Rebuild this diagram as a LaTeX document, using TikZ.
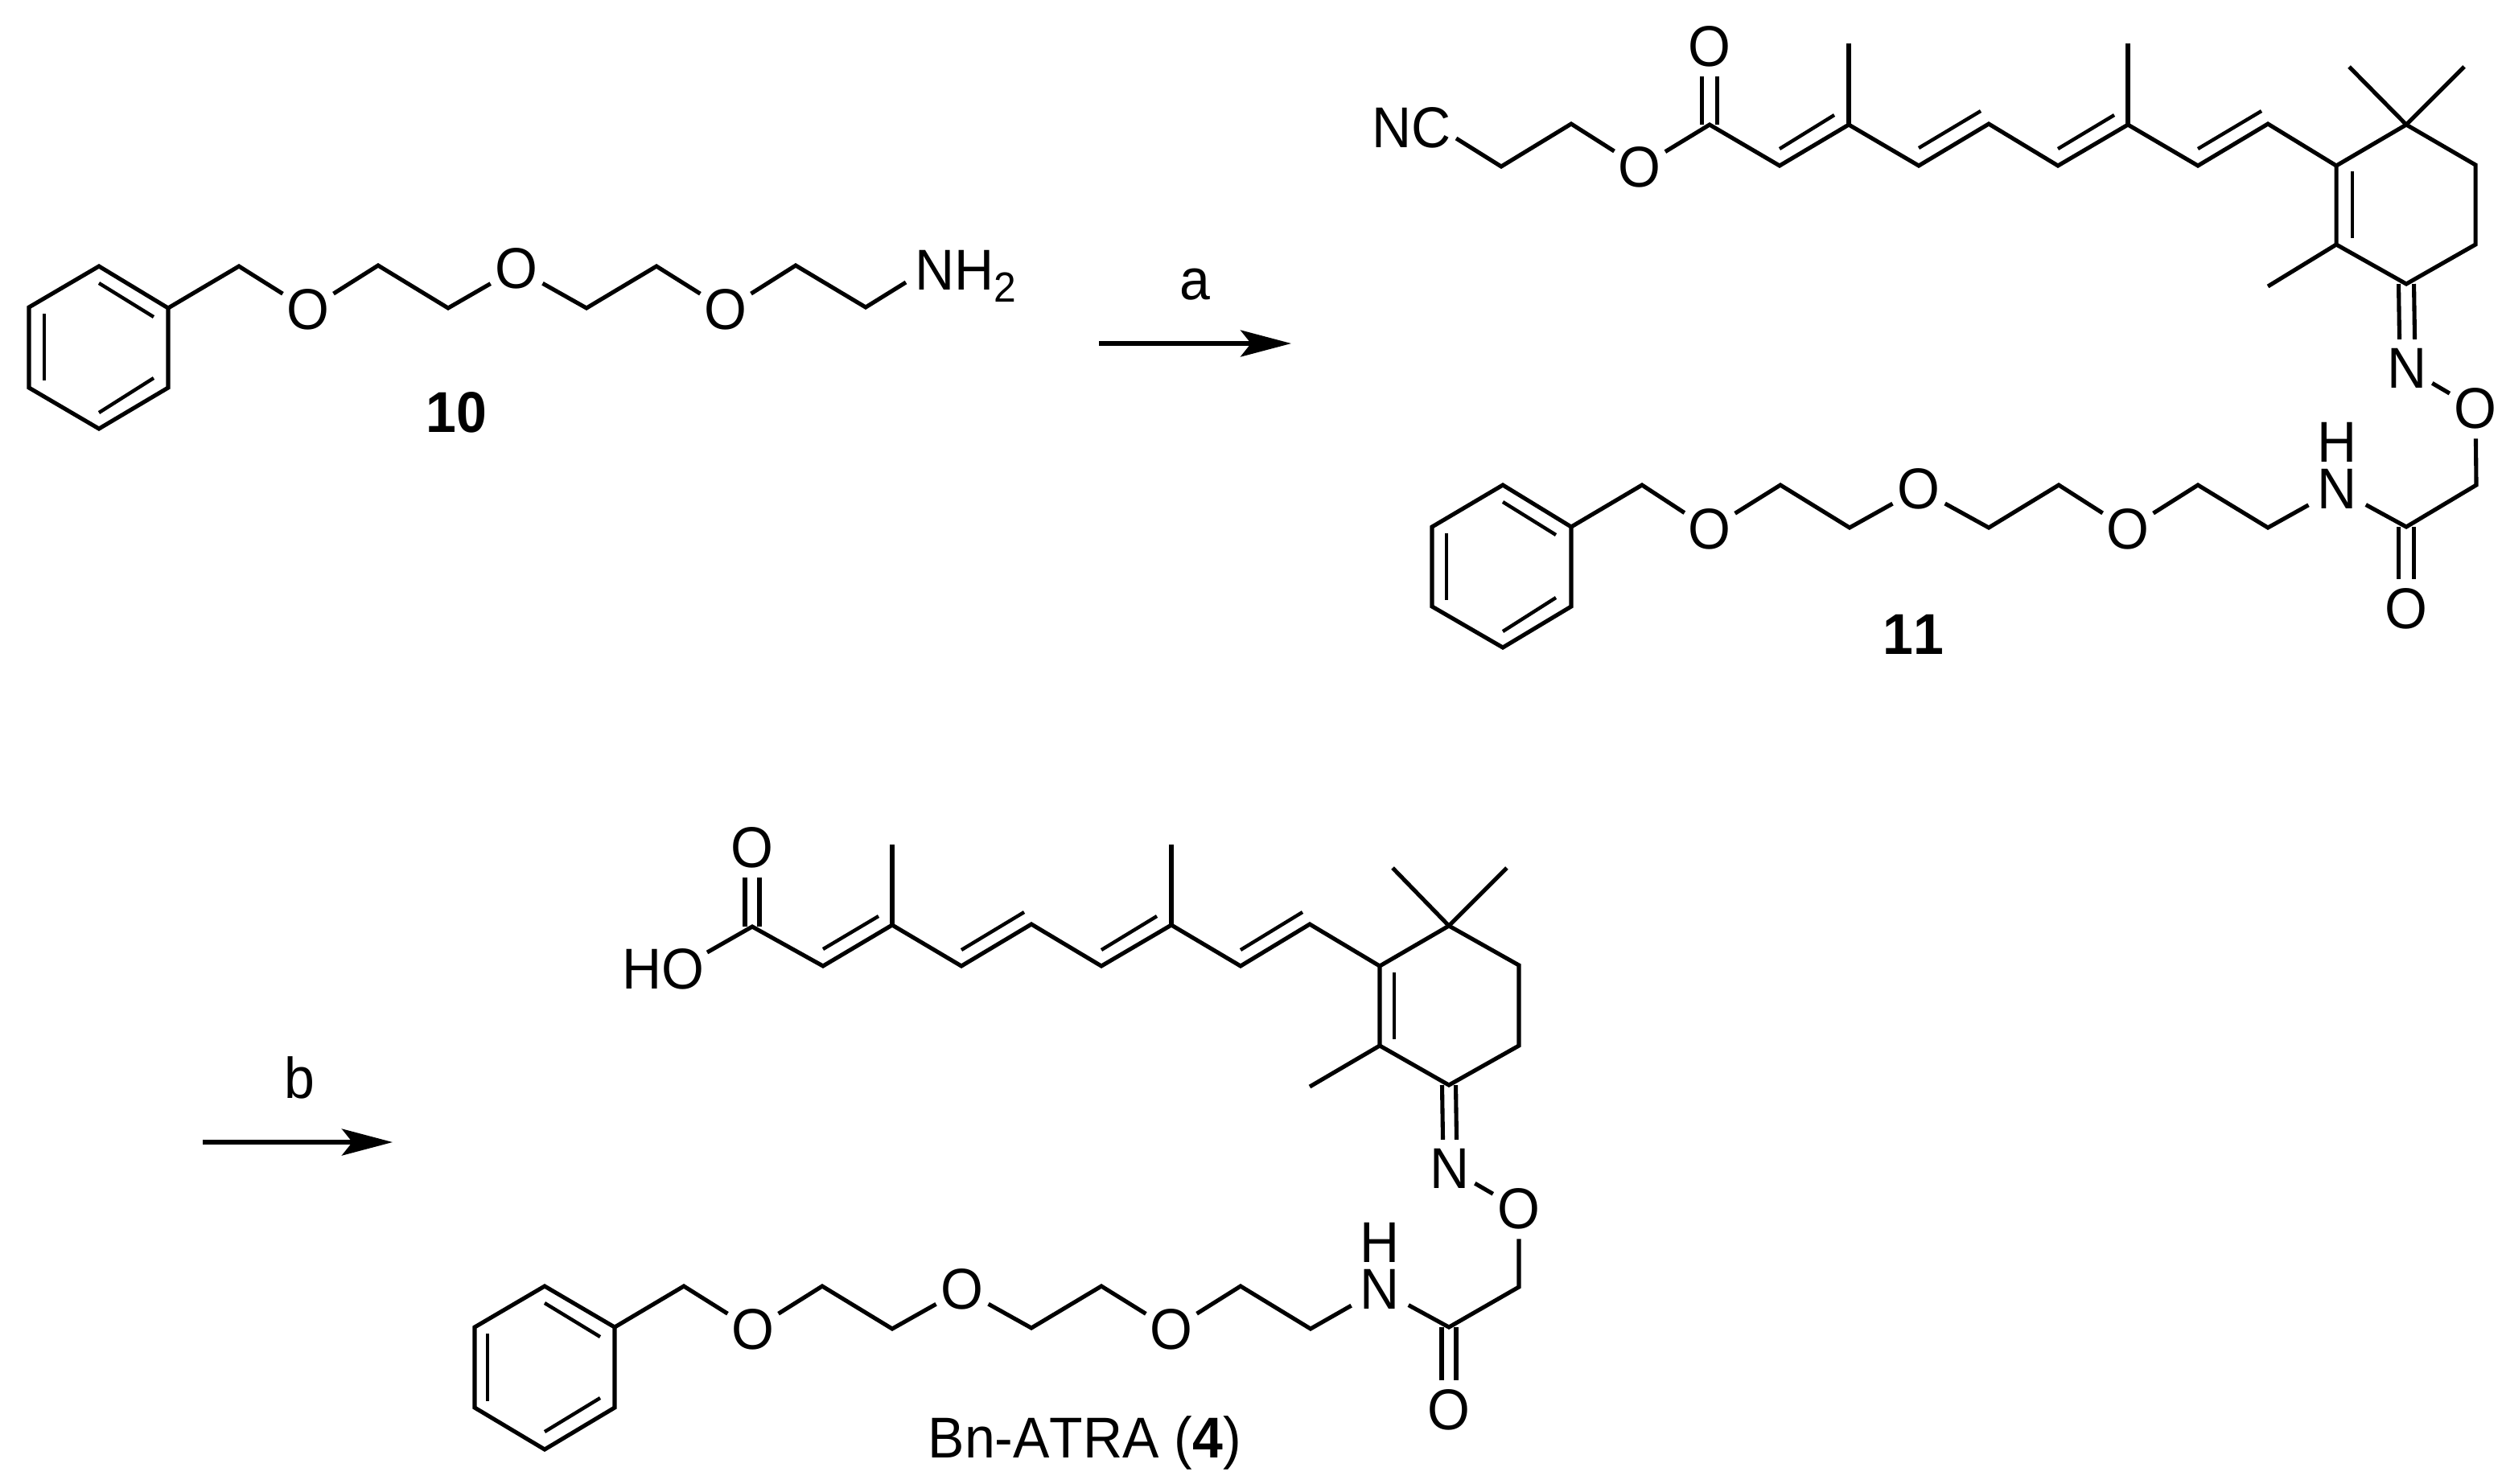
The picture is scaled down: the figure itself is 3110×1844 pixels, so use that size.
\documentclass[tikz,border=0pt]{standalone}
\usepackage{fontspec}
\setmainfont[FakeStretch=0.95,Kerning=Off]{Liberation Sans}
\usetikzlibrary{arrows.meta}
\newcommand{\labelfont}{\fontsize{20.35}{24}\selectfont}
\newcommand{\subfont}{\fontsize{14.9}{18}\selectfont}
\tikzset{
  x=0.01cm, y=-0.01cm,
  bond/.style={line width=1.45pt, line join=miter, line cap=butt, black},
  innerbond/.style={line width=1.25pt, line cap=butt, black},
  atom/.style={circle, inner sep=0pt, minimum size=0.71cm, font=\labelfont, text=black},
  nhport/.style={circle, inner sep=0pt, minimum size=0.8cm},
  nhtext/.style={inner sep=0pt, align=center, font=\fontsize{20.35}{16.5}\selectfont, text=black},
  txt/.style={inner sep=0pt, font=\labelfont, text=black},
  rxn/.style={line width=1.45pt, black, -{Stealth[length=0.63cm,width=0.33cm,inset=0.13cm]}},
}
\begin{document}
\begin{tikzpicture}
\useasboundingbox[fill=white] (0,0) rectangle (3110,1844);

% ---------- compound 10 ----------
\coordinate (a1) at (123,331); \coordinate (a2) at (209,383); \coordinate (a3) at (209,482);
\coordinate (a4) at (123,533); \coordinate (a5) at (36,482);  \coordinate (a6) at (36,382);
\coordinate (a7) at (297,331); \coordinate (a8) at (470,330); \coordinate (a9) at (557,383);
\coordinate (a10) at (729,383); \coordinate (a11) at (816,331); \coordinate (a12) at (989,330);
\coordinate (a13) at (1076,382); \coordinate (a14) at (1126,351);
\node[atom] (aO1) at (383,385) {O};
\node[atom] (aO2) at (642,334) {O};
\node[atom] (aO3) at (902,385) {O};
\node[txt, anchor=base west] (aN) at (1137,360) {NH\raisebox{-0.15cm}{\subfont 2}};
\node[txt, anchor=base, font=\labelfont\bfseries] (lab10) at (567,537) {10};
\draw[bond] (a1) -- (a2) -- (a3) -- (a4) -- (a5) -- (a6) -- cycle;
\draw[bond] (a2) -- (a7) -- (aO1) -- (a8) -- (a9) -- (aO2) -- (a10) -- (a11) -- (aO3) -- (a12) -- (a13) -- (a14);
\draw[innerbond] (123,352) -- (191,394);
\draw[innerbond] (55,390) -- (55,473);
\draw[innerbond] (123,513) -- (191,470);

% ---------- arrow a ----------
\coordinate (ras) at (1366,427); \coordinate (rae) at (1605,427);
\draw[rxn] (ras) -- (rae);
\node[txt, anchor=base] (laba) at (1485,372) {a};

% ---------- compound 11 ----------
\node[txt, anchor=base west] (bNC) at (1705,183) {NC};
\coordinate (bc0) at (1810,172); \coordinate (bc1) at (1866,207); \coordinate (bc2) at (1953,154);
\node[atom] (bOe) at (2038,208) {O};
\node[atom] (bOc) at (2125,58) {O};
\coordinate (bc3) at (2125,155); \coordinate (bc4) at (2212,206); \coordinate (bc5) at (2298,155);
\coordinate (bm1) at (2298,54);
\coordinate (bc6) at (2385,206); \coordinate (bc7) at (2472,154); \coordinate (bc8) at (2558,206);
\coordinate (bc9) at (2645,155); \coordinate (bm2) at (2645,54);
\coordinate (bc10) at (2732,206); \coordinate (bc11) at (2819,154);
\coordinate (br1) at (2904,206); \coordinate (br2) at (2991,155); \coordinate (br3) at (3077,205);
\coordinate (br4) at (3077,304); \coordinate (br5) at (2991,353); \coordinate (br6) at (2904,304);
\coordinate (bm3) at (2920,83); \coordinate (bm4) at (3063,83); \coordinate (bm5) at (2819,356);
\node[atom] (bNi) at (2992,458) {N};
\node[atom] (bOi) at (3077,508) {O};
\coordinate (bd1) at (3078,603); \coordinate (bd2) at (2991,655);
\node[atom] (bOa) at (2991,757) {O};
\node[nhport] (bNH) at (2905,608) {};
\node[nhtext] (bHN) at (2905,578.5) {H\\N};
\coordinate (bd3) at (2819,656); \coordinate (bd4) at (2732,603);
\node[atom] (bO3) at (2645,658) {O};
\coordinate (bd5) at (2559,603); \coordinate (bd6) at (2472,656);
\node[atom] (bO2) at (2385,608) {O};
\coordinate (bd7) at (2299,656); \coordinate (bd8) at (2213,603);
\node[atom] (bO1) at (2125,658) {O};
\coordinate (bd9) at (2041,603);
\coordinate (bp1) at (1953,655); \coordinate (bp2) at (1868,603); \coordinate (bp3) at (1780,655);
\coordinate (bp4) at (1780,754); \coordinate (bp5) at (1868,805); \coordinate (bp6) at (1953,754);
\node[txt, anchor=base, font=\labelfont\bfseries] (lab11) at (2378,813) {11};
\draw[bond] (bc0) -- (bc1) -- (bc2) -- (bOe) -- (bc3) -- (bc4) -- (bc5) -- (bc6) -- (bc7) -- (bc8) -- (bc9) -- (bc10) -- (bc11) -- (br1);
\draw[bond] (bc5) -- (bm1);
\draw[bond] (bc9) -- (bm2);
\draw[bond] (br1) -- (br2) -- (br3) -- (br4) -- (br5) -- (br6) -- cycle;
\draw[bond] (br2) -- (bm3);
\draw[bond] (br2) -- (bm4);
\draw[bond] (br6) -- (bm5);
\draw[bond] ([xshift=-.095cm]bc3) -- ([xshift=-.095cm]bOc.south);
\draw[bond] ([xshift=.095cm]bc3) -- ([xshift=.095cm]bOc.south);
\draw[bond] ([xshift=-.095cm]br5) -- ([xshift=-.095cm]bNi.north);
\draw[bond] ([xshift=.095cm]br5) -- ([xshift=.095cm]bNi.north);
\draw[bond] (bNi) -- (bOi) -- (bd1) -- (bd2) -- (bNH) -- (bd3) -- (bd4) -- (bO3) -- (bd5) -- (bd6) -- (bO2) -- (bd7) -- (bd8) -- (bO1) -- (bd9) -- (bp1);
\draw[bond] ([xshift=-.095cm]bd2) -- ([xshift=-.095cm]bOa.north);
\draw[bond] ([xshift=.095cm]bd2) -- ([xshift=.095cm]bOa.north);
\draw[bond] (bp1) -- (bp2) -- (bp3) -- (bp4) -- (bp5) -- (bp6) -- cycle;
\draw[innerbond] (2212,185) -- (2280,143);
\draw[innerbond] (2385,184) -- (2462,138);
\draw[innerbond] (2558,185) -- (2628,143);
\draw[innerbond] (2732,185) -- (2811,138);
\draw[innerbond] (2924,213) -- (2924,296);
\draw[innerbond] (1868,624) -- (1934,665);
\draw[innerbond] (1798,663) -- (1798,746);
\draw[innerbond] (1868,785) -- (1934,743);

% ---------- arrow b ----------
\coordinate (rbs) at (252,1420); \coordinate (rbe) at (488,1420);
\draw[rxn] (rbs) -- (rbe);
\node[txt, anchor=base] (labb) at (372,1365) {b};

% ---------- Bn-ATRA ----------
\node[atom] (cOc) at (935,1054) {O};
\node[txt, anchor=base west] (cHO) at (773,1229) {HO};
\coordinate (cc0) at (879,1184);
\coordinate (cc1) at (935,1152); \coordinate (cc2) at (1023,1201); \coordinate (cc3) at (1109,1150);
\coordinate (cm1) at (1109,1050);
\coordinate (cc4) at (1195,1201); \coordinate (cc5) at (1282,1149); \coordinate (cc6) at (1369,1201);
\coordinate (cc7) at (1456,1150); \coordinate (cm2) at (1456,1050);
\coordinate (cc8) at (1542,1201); \coordinate (cc9) at (1628,1149);
\coordinate (cr1) at (1715,1201); \coordinate (cr2) at (1801,1151); \coordinate (cr3) at (1888,1200);
\coordinate (cr4) at (1888,1300); \coordinate (cr5) at (1801,1349); \coordinate (cr6) at (1715,1300);
\coordinate (cm3) at (1731,1079); \coordinate (cm4) at (1873,1079); \coordinate (cm5) at (1628,1351);
\node[atom] (cNi) at (1802,1453) {N};
\node[atom] (cOi) at (1888,1503) {O};
\coordinate (cd1) at (1888,1600); \coordinate (cd2) at (1801,1650);
\node[atom] (cOa) at (1801,1753) {O};
\node[nhport] (cNH) at (1715,1603) {};
\node[nhtext] (cHN) at (1715,1573.5) {H\\N};
\coordinate (cd3) at (1629,1652); \coordinate (cd4) at (1542,1599);
\node[atom] (cO3) at (1456,1653) {O};
\coordinate (cd5) at (1369,1599); \coordinate (cd6) at (1282,1651);
\node[atom] (cO2) at (1196,1603) {O};
\coordinate (cd7) at (1109,1652); \coordinate (cd8) at (1022,1599);
\node[atom] (cO1) at (936,1653) {O};
\coordinate (cd9) at (850,1599);
\coordinate (cp1) at (764,1650); \coordinate (cp2) at (677,1599); \coordinate (cp3) at (590,1650);
\coordinate (cp4) at (590,1750); \coordinate (cp5) at (677,1802); \coordinate (cp6) at (764,1750);
\node[txt, anchor=base west] (labc) at (1153,1812) {Bn-ATRA (\textbf{4})};
\draw[bond] (cc0) -- (cc1) -- (cc2) -- (cc3) -- (cc4) -- (cc5) -- (cc6) -- (cc7) -- (cc8) -- (cc9) -- (cr1);
\draw[bond] (cc3) -- (cm1);
\draw[bond] (cc7) -- (cm2);
\draw[bond] (cr1) -- (cr2) -- (cr3) -- (cr4) -- (cr5) -- (cr6) -- cycle;
\draw[bond] (cr2) -- (cm3);
\draw[bond] (cr2) -- (cm4);
\draw[bond] (cr6) -- (cm5);
\draw[bond] ([xshift=-.09cm]cc1) -- ([xshift=-.09cm]cOc.south);
\draw[bond] ([xshift=.09cm]cc1) -- ([xshift=.09cm]cOc.south);
\draw[bond] ([xshift=-.085cm]cr5) -- ([xshift=-.085cm]cNi.north);
\draw[bond] ([xshift=.085cm]cr5) -- ([xshift=.085cm]cNi.north);
\draw[bond] (cNi) -- (cOi) -- (cd1) -- (cd2) -- (cNH) -- (cd3) -- (cd4) -- (cO3) -- (cd5) -- (cd6) -- (cO2) -- (cd7) -- (cd8) -- (cO1) -- (cd9) -- (cp1);
\draw[bond] ([xshift=-.09cm]cd2) -- ([xshift=-.09cm]cOa.north);
\draw[bond] ([xshift=.09cm]cd2) -- ([xshift=.09cm]cOa.north);
\draw[bond] (cp1) -- (cp2) -- (cp3) -- (cp4) -- (cp5) -- (cp6) -- cycle;
\draw[innerbond] (1023,1180) -- (1092,1139);
\draw[innerbond] (1195,1181) -- (1273,1134);
\draw[innerbond] (1369,1181) -- (1438,1139);
\draw[innerbond] (1542,1181) -- (1619,1134);
\draw[innerbond] (1733,1209) -- (1733,1292);
\draw[innerbond] (677,1620) -- (746,1662);
\draw[innerbond] (606,1658) -- (606,1742);
\draw[innerbond] (677,1780) -- (746,1738);
\end{tikzpicture}
\end{document}
